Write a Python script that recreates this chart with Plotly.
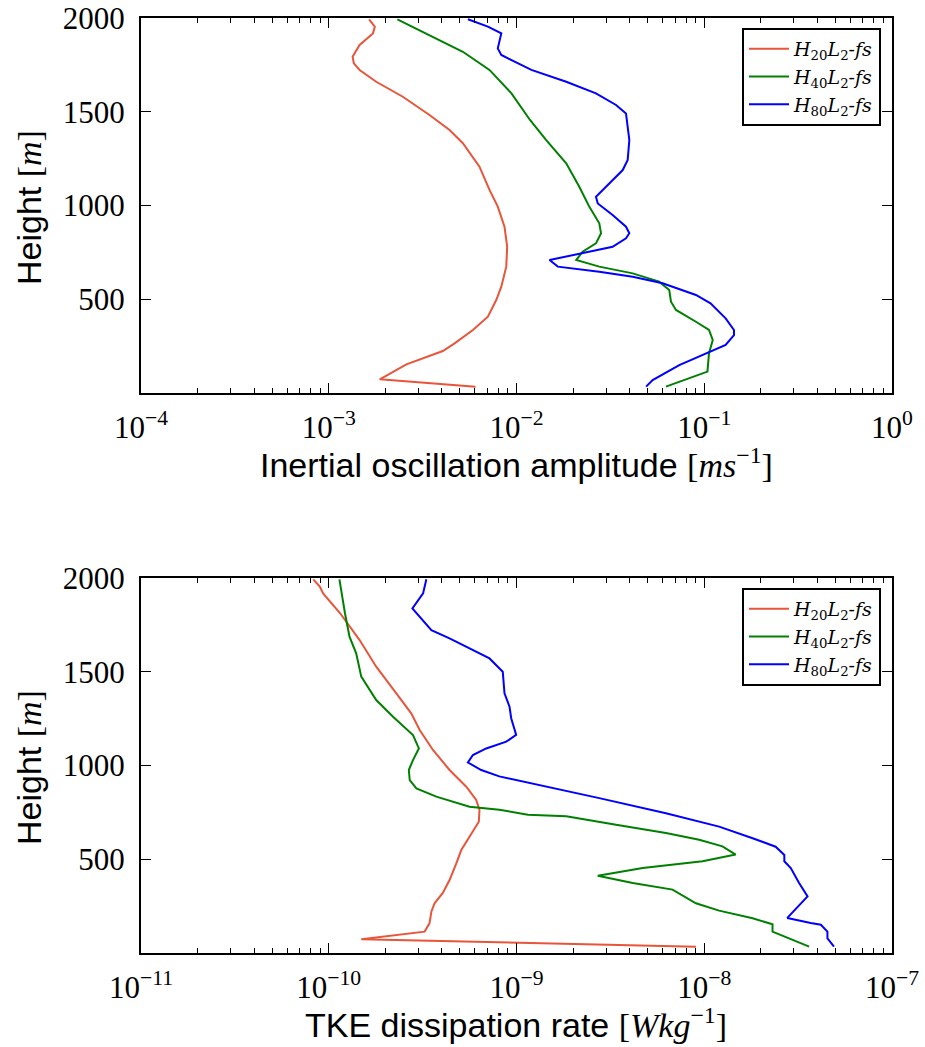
import plotly.graph_objects as go

# ---------------- data ----------------
# Top panel: inertial oscillation amplitude [m s^-1] vs height [m]
h_amp20 = [1993, 1954, 1918, 1856, 1794, 1758, 1723, 1660, 1580, 1483, 1403, 1332, 1207, 1083,
           994, 887, 780, 674, 567, 496, 407, 336, 265, 224, 153, 73, 34]
amp20 = [1.64e-3, 1.76e-3, 1.72e-3, 1.46e-3, 1.34e-3, 1.36e-3, 1.46e-3, 1.79e-3, 2.48e-3, 3.44e-3,
         4.40e-3, 5.18e-3, 6.35e-3, 7.18e-3, 7.95e-3, 8.63e-3, 8.92e-3, 8.82e-3, 8.30e-3, 7.80e-3,
         7.04e-3, 5.86e-3, 4.68e-3, 4.05e-3, 2.59e-3, 1.87e-3, 6.05e-3]

h_amp40 = [1993, 1909, 1820, 1723, 1598, 1456, 1349, 1225, 1100, 994, 905, 852, 798, 754, 709,
           674, 638, 594, 549, 487, 443, 380, 336, 283, 212, 114, 34]
amp40 = [2.32e-3, 3.44e-3, 5.18e-3, 7.18e-3, 9.4e-3, 1.18e-2, 1.44e-2, 1.84e-2, 2.16e-2, 2.44e-2,
         2.76e-2, 2.82e-2, 2.65e-2, 2.25e-2, 2.08e-2, 2.76e-2, 4.16e-2, 5.75e-2, 6.51e-2, 6.65e-2,
         7.07e-2, 9.03e-2, 0.106, 0.111, 0.106, 0.104, 6.25e-2]

h_amp80 = [1993, 1954, 1918, 1838, 1803, 1723, 1660, 1598, 1536, 1491, 1349, 1243, 1189, 1100,
           1047, 1011, 949, 887, 852, 825, 780, 709, 674, 647, 620, 585, 523, 478, 398, 336, 309,
           256, 212, 149, 69, 34]
amp80 = [5.51e-3, 7.04e-3, 8.3e-3, 7.95e-3, 8.3e-3, 1.2e-2, 1.84e-2, 2.65e-2, 3.39e-2, 3.83e-2,
         3.99e-2, 3.91e-2, 3.68e-2, 3.0e-2, 2.65e-2, 2.71e-2, 3.25e-2, 3.83e-2, 3.99e-2, 3.83e-2,
         3.25e-2, 1.50e-2, 1.66e-2, 2.76e-2, 4.16e-2, 6.0e-2, 9.03e-2, 0.108, 0.130, 0.144, 0.144,
         0.130, 0.102, 7.36e-2, 5.31e-2, 4.9e-2]

# Bottom panel: TKE dissipation rate [W kg^-1] vs height [m]
h_eps20 = [1993, 1954, 1918, 1812, 1669, 1527, 1385, 1278, 1189, 1083, 976, 887, 816, 763, 700,
           620, 549, 478, 389, 320, 265, 220, 158, 114, 73, 34]
eps20 = [8.27e-11, 8.96e-11, 9.33e-11, 1.15e-10, 1.46e-10, 1.79e-10, 2.29e-10, 2.75e-10, 3.05e-10,
         3.59e-10, 4.40e-10, 5.40e-10, 6.10e-10, 6.35e-10, 6.30e-10, 5.62e-10, 5.08e-10, 4.78e-10,
         4.40e-10, 4.05e-10, 3.66e-10, 3.52e-10, 3.44e-10, 3.24e-10, 1.49e-10, 9.03e-9]

h_eps40 = [1993, 1918, 1812, 1687, 1598, 1474, 1349, 1260, 1162, 1091, 1029, 976, 922, 878, 834,
           780, 764, 738, 729, 684, 640, 604, 569, 525, 489, 453, 412, 373, 338, 265, 226, 185,
           153, 114, 34]
eps40 = [1.14e-10, 1.17e-10, 1.22e-10, 1.29e-10, 1.40e-10, 1.49e-10, 1.79e-10, 2.20e-10, 2.81e-10,
         3.02e-10, 2.81e-10, 2.67e-10, 2.70e-10, 2.93e-10, 3.74e-10, 5.62e-10, 8.1e-10, 1.15e-9,
         1.84e-9, 3.39e-9, 6.25e-9, 9.4e-9, 1.25e-8, 1.47e-8, 9.8e-9, 4.7e-9, 2.71e-9, 4.16e-9,
         6.78e-9, 9.03e-9, 1.2e-8, 1.81e-8, 2.31e-8, 2.31e-8, 3.62e-8]

h_eps80 = [1993, 1918, 1838, 1722, 1678, 1625, 1571, 1500, 1385, 1314, 1252, 1163, 1127, 1091,
           1056, 1016, 976, 942, 909, 897, 826, 745, 674, 612, 567, 523, 489, 453, 373, 302, 187,
           160, 151, 114, 78, 34]
eps80 = [3.31e-10, 3.18e-10, 2.79e-10, 3.52e-10, 4.40e-10, 5.62e-10, 7.18e-10, 8.45e-10, 8.63e-10,
         9.18e-10, 9.37e-10, 9.96e-10, 8.82e-10, 6.9e-10, 5.86e-10, 5.51e-10, 6.49e-10, 8.1e-10,
         1.15e-9, 1.33e-9, 2.76e-9, 6.25e-9, 1.2e-8, 1.81e-8, 2.4e-8, 2.67e-8, 2.67e-8, 2.89e-8,
         3.2e-8, 3.55e-8, 2.77e-8, 3.69e-8, 4.18e-8, 4.53e-8, 4.53e-8, 4.91e-8]

series_names = ["<i>H</i><sub>20</sub><i>L</i><sub>2</sub>-<i>fs</i>",
                "<i>H</i><sub>40</sub><i>L</i><sub>2</sub>-<i>fs</i>",
                "<i>H</i><sub>80</sub><i>L</i><sub>2</sub>-<i>fs</i>"]
series_colors = ["#E8553A", "#008000", "#0000FF"]

amp_tick_exp = [-4, -3, -2, -1, 0]
eps_tick_exp = [-11, -10, -9, -8, -7]
height_ticks = [500, 1000, 1500, 2000]
amp_title = "Inertial oscillation amplitude <span style='font-family:Liberation Serif'>[<i>ms</i><sup>−1</sup>]</span>"
eps_title = "TKE dissipation rate <span style='font-family:Liberation Serif'>[<i>Wkg</i><sup>−1</sup>]</span>"
h_title = "Height <span style='font-family:Liberation Serif'>[<i>m</i>]</span>"

# ---------------- figure ----------------
W, H = 925, 1047
SERIF = "Liberation Serif"
SANS = "Liberation Sans"

fig = go.Figure()

for h, v, name, col in zip([h_amp20, h_amp40, h_amp80], [amp20, amp40, amp80], series_names, series_colors):
    fig.add_trace(go.Scatter(x=v, y=h, mode="lines", name=name, line=dict(color=col, width=2),
                             xaxis="x", yaxis="y", legend="legend"))
for h, v, name, col in zip([h_eps20, h_eps40, h_eps80], [eps20, eps40, eps80], series_names, series_colors):
    fig.add_trace(go.Scatter(x=v, y=h, mode="lines", name=name, line=dict(color=col, width=2),
                             xaxis="x2", yaxis="y2", legend="legend2"))


def minor_vals(exps):
    out = []
    for e in exps[:-1]:
        for k in range(2, 10):
            out.append(k * 10.0 ** e)
    return out


def xaxis_cfg(exps, anchor):
    return dict(
        type="log", range=[exps[0], exps[-1]], domain=[141 / W, 892 / W], anchor=anchor,
        showline=True, linewidth=2, linecolor="black", mirror="allticks",
        ticks="inside", ticklen=10, tickwidth=1.3, tickcolor="black",
        tickmode="array", tickvals=[10.0 ** e for e in exps],
        ticktext=["10<sup>%s</sup>" % (("−%d" % -e) if e < 0 else "%d" % e) for e in exps],
        tickfont=dict(family=SERIF, size=31, color="black"),
        minor=dict(ticks="inside", ticklen=5, tickwidth=1.1, tickcolor="black",
                   tickmode="array", tickvals=minor_vals(exps), showgrid=False),
        showgrid=False, zeroline=False, automargin=False, ticklabelstandoff=6,
    )


def yaxis_cfg(top_px, bottom_px, anchor):
    return dict(
        range=[0, 2000], domain=[1 - bottom_px / H, 1 - top_px / H], anchor=anchor,
        showline=True, linewidth=2, linecolor="black", mirror="allticks",
        ticks="inside", ticklen=10, tickwidth=1.3, tickcolor="black",
        tickmode="array", tickvals=height_ticks, ticktext=[str(t) for t in height_ticks],
        tickfont=dict(family=SERIF, size=31, color="black"),
        showgrid=False, zeroline=False, automargin=False, ticklabelstandoff=8,
    )


legend_common = dict(
    xanchor="right", yanchor="top", x=881 / W,
    bgcolor="white", bordercolor="black", borderwidth=2,
    font=dict(family="DejaVu Serif", size=19, color="black"),
    tracegroupgap=0, itemwidth=40,
)

fig.update_layout(
    width=W, height=H, autosize=False,
    paper_bgcolor="white", plot_bgcolor="white",
    margin=dict(l=0, r=0, t=0, b=0),
    xaxis=xaxis_cfg(amp_tick_exp, "y"),
    yaxis=yaxis_cfg(18, 393, "x"),
    xaxis2=xaxis_cfg(eps_tick_exp, "y2"),
    yaxis2=yaxis_cfg(578, 953, "x2"),
    legend=dict(y=1 - 28 / H, **legend_common),
    legend2=dict(y=1 - 588 / H, **legend_common),
    showlegend=True,
)

anns = [
    dict(text=amp_title, x=516 / W, y=1 - 463 / H),
    dict(text=eps_title, x=516 / W, y=1 - 1023 / H),
]
for a in anns:
    fig.add_annotation(xref="paper", yref="paper", x=a["x"], y=a["y"], text=a["text"],
                       showarrow=False, xanchor="center", yanchor="middle",
                       font=dict(family=SANS, size=34, color="black"))
for ycen in [208, 768]:
    fig.add_annotation(xref="paper", yref="paper", x=29 / W, y=1 - ycen / H, text=h_title,
                       showarrow=False, xanchor="center", yanchor="middle", textangle=-90,
                       font=dict(family=SANS, size=34, color="black"))

fig.write_html("out.html", config={"displayModeBar": False},
               post_script="document.body.style.margin='0px';document.body.style.overflow='hidden';")
